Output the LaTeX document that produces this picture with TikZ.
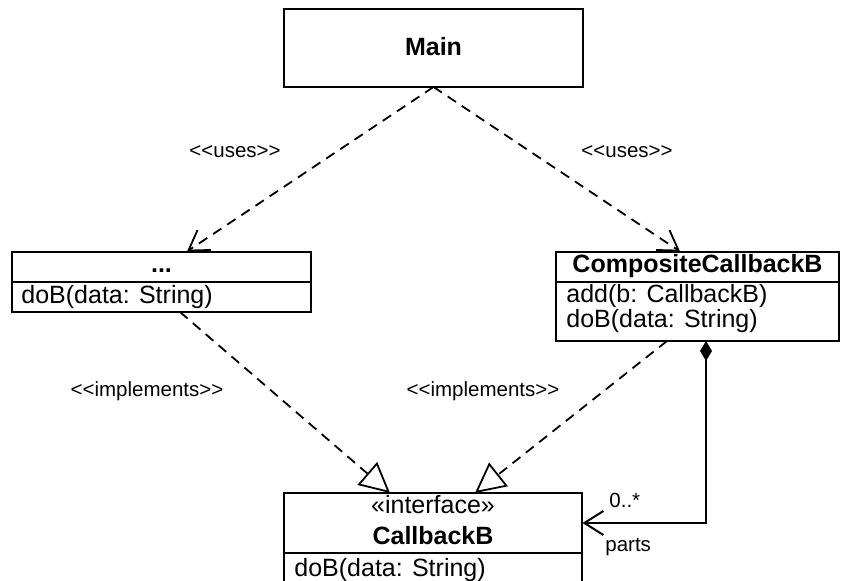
\documentclass[tikz,border=0pt]{standalone}
\usepackage{fontspec}
\setmainfont{Liberation Sans}
\usetikzlibrary{arrows.meta}
\begin{document}
\begin{tikzpicture}[x=0.5pt,y=-0.5pt,
  box/.style={draw,line width=1pt,inner sep=0,outer sep=0},
  cls/.style={font=\fontsize{12.5}{15}\selectfont,inner sep=0,anchor=base},
  clsl/.style={font=\fontsize{12.5}{15}\selectfont,inner sep=0,anchor=base west},
  lbl/.style={font=\fontsize{10.25}{12}\selectfont,inner sep=0,anchor=base},
  lbll/.style={font=\fontsize{10.25}{12}\selectfont,inner sep=0,anchor=base west},
  dep/.style={line width=0.9pt,dash pattern=on 5pt off 3.5pt,
    -{Straight Barb[length=9.5pt,width=12pt,line width=0.9pt]}},
  impl/.style={line width=0.9pt,dash pattern=on 5pt off 3.5pt,
    -{Triangle[open,length=15pt,width=15pt,line width=0.9pt]}},
  compo/.style={line width=1pt,
    {Diamond[length=10pt,width=6pt]}-{Straight Barb[length=9.5pt,width=12pt,line width=1pt]}},
  divider/.style={line width=1pt}
]
\useasboundingbox (0,0) rectangle (845,581);

% class boxes
\node[box,minimum width=149.5pt,minimum height=39pt] (main) at (433.5,48) {};
\node[box,minimum width=149.5pt,minimum height=30pt] (dots) at (161.5,282) {};
\node[box,minimum width=141.5pt,minimum height=44.5pt] (comp) at (697.5,296.5) {};
\node[box,minimum width=149pt,minimum height=58.5pt] (cb) at (433,551.5) {};

% dividers
\draw[divider] (dots.west |- 0,282) -- (dots.east |- 0,282);
\draw[divider] (comp.west |- 0,282) -- (comp.east |- 0,282);
\draw[divider] (cb.west |- 0,553) -- (cb.east |- 0,553);

% texts
\node[cls,font=\fontsize{12.5}{15}\selectfont\bfseries] (tMain) at (433.5,56) {Main};
\node[cls,font=\fontsize{12.5}{15}\selectfont\bfseries] (tDots) at (161.5,273) {...};
\node[clsl] (tDotsOp) at (21,304) {doB(data: String)};
\node[cls,font=\fontsize{12.5}{15}\selectfont\bfseries] (tComp) at (697.5,273) {CompositeCallbackB};
\node[clsl] (tCompOp1) at (566,303) {add(b: CallbackB)};
\node[clsl] (tCompOp2) at (566,328) {doB(data: String)};
\node[cls] (tSter) at (433,514) {«interface»};
\node[cls,font=\fontsize{12.5}{15}\selectfont\bfseries] (tCb) at (433,545) {CallbackB};
\node[clsl] (tCbOp) at (294,576) {doB(data: String)};

% labels
\node[lbl] (lUsesL) at (235,158) {<{}<uses>{}>};
\node[lbl] (lUsesR) at (627,158) {<{}<uses>{}>};
\node[lbl] (lImplL) at (147,397) {<{}<implements>{}>};
\node[lbl] (lImplR) at (483,397) {<{}<implements>{}>};
\node[lbll] (lMult) at (609,508) {0..*};
\node[lbll] (lParts) at (605,552) {parts};

% connector end points
\coordinate (dotsIn) at (187,251.5);
\coordinate (compIn) at (680,251.5);
\coordinate (dotsOut) at (180,312);
\coordinate (compOut) at (667,341);
\coordinate (cbInL) at (390,493);
\coordinate (cbInR) at (475,493);
\coordinate (compDia) at (706,341);
\coordinate (cbSide) at (582.5,523);

% connectors
\draw[dep] (main.south) -- (dotsIn);
\draw[dep] (main.south) -- (compIn);
\draw[impl] (dotsOut) -- (cbInL);
\draw[impl] (compOut) -- (cbInR);
\draw[compo] (compDia) |- (cbSide);
\end{tikzpicture}
\end{document}
